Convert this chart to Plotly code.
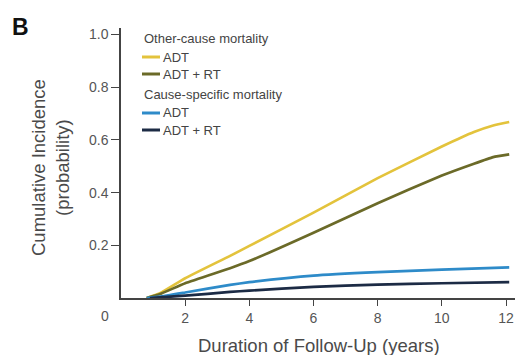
import plotly.graph_objects as go

# ---- data ----
yrs_oc_adt = [0.8, 1.2, 2.0, 3.4, 4.0, 6.0, 8.0, 10.0, 11.0, 11.6, 12.1]
oc_adt = [0.0, 0.017, 0.075, 0.160, 0.198, 0.324, 0.455, 0.575, 0.630, 0.655, 0.668]

yrs_oc_adtrt = [0.8, 1.2, 2.0, 3.4, 4.0, 6.0, 8.0, 10.0, 11.0, 11.6, 12.1]
oc_adtrt = [0.0, 0.014, 0.056, 0.113, 0.140, 0.248, 0.360, 0.465, 0.510, 0.535, 0.545]

yrs_cs_adt = [0.8, 1.2, 2.0, 3.4, 4.0, 6.0, 8.0, 10.0, 12.1]
cs_adt = [0.0, 0.005, 0.021, 0.050, 0.060, 0.085, 0.098, 0.108, 0.116]

yrs_cs_adtrt = [0.9, 1.3, 2.0, 3.4, 4.0, 6.0, 8.0, 10.0, 12.1]
cs_adtrt = [0.0, 0.003, 0.009, 0.023, 0.028, 0.042, 0.051, 0.056, 0.060]

x_ticks = [2, 4, 6, 8, 10, 12]
y_ticks = [0.2, 0.4, 0.6, 0.8, 1.0]
y_ticktext = ["0.2", "0.4", "0.6", "0.8", "1.0"]

group_titles = ["Other-cause mortality", "Cause-specific mortality"]
series_names = ["ADT", "ADT + RT", "ADT", "ADT + RT"]

# ---- styles ----
colors = ["#E3C33C", "#6B6A28", "#2E8BC9", "#1C2B45"]
FONT = "Liberation Sans, Arial, sans-serif"
TXT = "#555555"
AX = "#444444"

fig = go.Figure()
series = [(yrs_oc_adt, oc_adt), (yrs_oc_adtrt, oc_adtrt),
          (yrs_cs_adt, cs_adt), (yrs_cs_adtrt, cs_adtrt)]
for (xs, ys), c, n in zip(series, colors, series_names):
    fig.add_trace(go.Scatter(x=xs, y=ys, mode="lines", name=n,
                             line=dict(color=c, width=2.7, shape="spline", smoothing=0.4),
                             showlegend=False, hoverinfo="skip"))

# ---- custom legend (paper coordinates) ----
W, H, L, T = 394.0, 270.0, 121.0, 28.0
def px(xp):
    return (xp - L) / W
def py(yp):
    return (T + H - yp) / H

rows = [38, 57, 74, 95, 113, 130]
ann = []
shapes = []
ann.append(dict(x=px(142), y=py(rows[0]), xref="paper", yref="paper", text=group_titles[0],
                showarrow=False, xanchor="left", yanchor="middle",
                font=dict(family=FONT, size=13, color="#444444")))
ann.append(dict(x=px(142), y=py(rows[3]), xref="paper", yref="paper", text=group_titles[1],
                showarrow=False, xanchor="left", yanchor="middle",
                font=dict(family=FONT, size=13, color="#444444")))
for r, c, n in zip([rows[1], rows[2], rows[4], rows[5]], colors, series_names):
    shapes.append(dict(type="line", xref="paper", yref="paper",
                       x0=px(142), x1=px(160), y0=py(r), y1=py(r),
                       line=dict(color=c, width=3)))
    ann.append(dict(x=px(161), y=py(r), xref="paper", yref="paper", text=n,
                    showarrow=False, xanchor="left", yanchor="middle",
                    font=dict(family=FONT, size=13, color="#444444")))

# axis titles, panel letter and origin label
ann.append(dict(x=px(50), y=py(168), xref="paper", yref="paper",
                text="Cumulative Incidence<br>(probability)", textangle=-90,
                showarrow=False, xanchor="center", yanchor="middle",
                font=dict(family=FONT, size=18.5, color="#4a4a4a")))
ann.append(dict(x=px(319), y=py(345), xref="paper", yref="paper",
                text="Duration of Follow-Up (years)",
                showarrow=False, xanchor="center", yanchor="middle",
                font=dict(family=FONT, size=18.5, color="#4a4a4a")))
ann.append(dict(x=px(20), y=py(27), xref="paper", yref="paper", text="<b>B</b>",
                showarrow=False, xanchor="center", yanchor="middle",
                font=dict(family=FONT, size=23, color="#111111")))
ann.append(dict(x=px(105), y=py(316), xref="paper", yref="paper", text="0",
                showarrow=False, xanchor="center", yanchor="middle",
                font=dict(family=FONT, size=14, color=TXT)))

fig.update_layout(
    width=515, height=355,
    margin=dict(l=121, r=0, t=28, b=57),
    paper_bgcolor="white", plot_bgcolor="white",
    annotations=ann, shapes=shapes,
    xaxis=dict(range=[0, 12.28], tickvals=x_ticks, ticks="outside", ticklen=6,
               tickwidth=1.2, tickcolor=AX, showline=True, linecolor=AX, linewidth=1.5,
               showgrid=False, zeroline=False,
               tickfont=dict(family=FONT, size=14, color=TXT)),
    yaxis=dict(range=[0, 1.025], tickvals=y_ticks, ticktext=y_ticktext, ticks="outside",
               ticklen=8, tickwidth=1.2, tickcolor=AX, showline=True, linecolor=AX,
               linewidth=1.5, showgrid=False, zeroline=False,
               tickfont=dict(family=FONT, size=14, color=TXT)),
)

fig.write_html("out.html")
